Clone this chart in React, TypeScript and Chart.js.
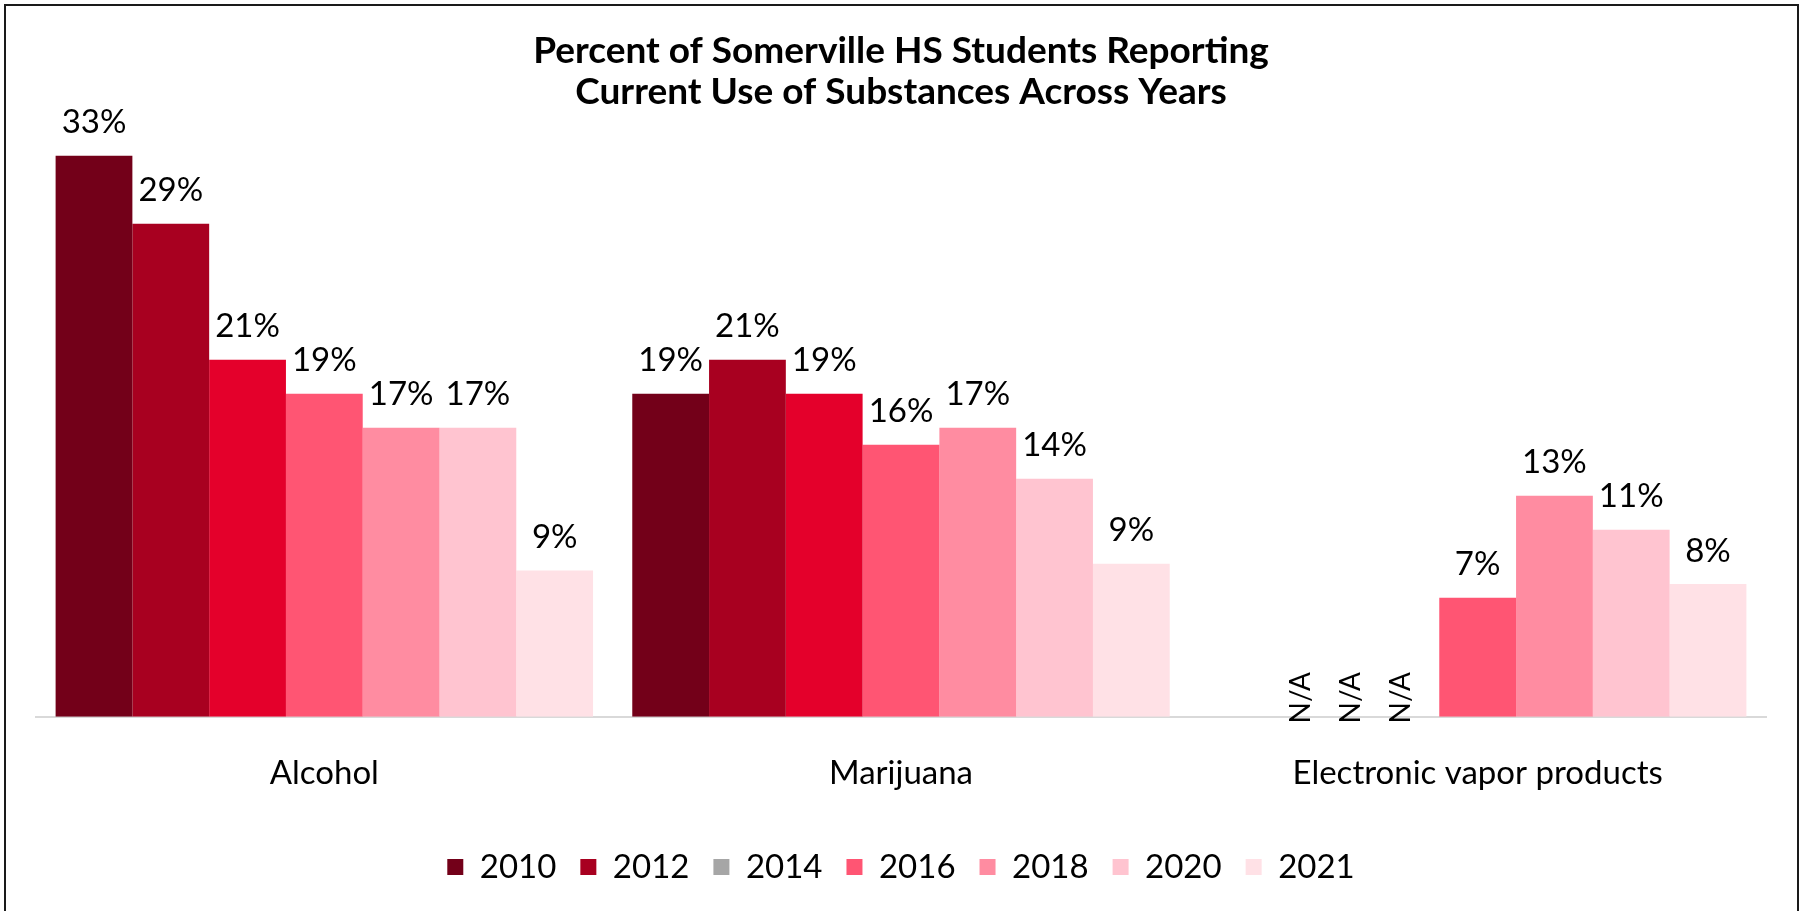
import React, { useEffect, useRef } from "react";
import { Chart, registerables } from "chart.js";

Chart.register(...registerables);

const categories = ["Alcohol", "Marijuana", "Electronic vapor products"];
const years = ["2010", "2012", "2014", "2016", "2018", "2020", "2021"];

const s2010 = [33, 19, null];
const s2012 = [29, 21, null];
const s2014 = [21, 19, null];
const s2016 = [19, 16, 7];
const s2018 = [17, 17, 13];
const s2020 = [17, 14, 11];
const s2021 = [8.6, 9, 7.8];

const seriesList = [s2010, s2012, s2014, s2016, s2018, s2020, s2021];

const barColors = ["#730019", "#a80020", "#e4002b", "#ff5573", "#ff8ca1", "#ffc4d0", "#ffe1e6"];
const legendColors = ["#730019", "#a80020", "#a6a6a6", "#ff5573", "#ff8ca1", "#ffc4d0", "#ffe1e6"];

const titleLines = [
  "Percent of Somerville HS Students Reporting",
  "Current Use of Substances Across Years",
];
const naText = "N/A";

const FONT = 'Lato, "Noto Sans", sans-serif';
const CAT_PCT = 0.932;

const labelPlugin = {
  id: "valueLabels",
  afterDatasetsDraw(chart: any) {
    const ctx = chart.ctx;
    const xScale = chart.scales.x;
    ctx.save();
    ctx.fillStyle = "#000";
    chart.data.datasets.forEach((ds: any, di: number) => {
      const meta = chart.getDatasetMeta(di);
      meta.data.forEach((el: any, idx: number) => {
        const v = ds.data[idx];
        if (v === null || v === undefined) {
          const catW = xScale.getPixelForValue(1) - xScale.getPixelForValue(0);
          const slot = (catW * CAT_PCT) / years.length;
          const center = xScale.getPixelForValue(idx);
          const x = center - slot - (2 - di) * 0.65 * slot;
          const y = xScale.top - 19;
          ctx.save();
          ctx.translate(x, y);
          ctx.rotate(-Math.PI / 2);
          ctx.font = `28px ${FONT}`;
          ctx.textAlign = "center";
          ctx.textBaseline = "middle";
          ctx.fillText(naText, 0, 0);
          ctx.restore();
        } else {
          ctx.font = `33px ${FONT}`;
          ctx.textAlign = "center";
          ctx.textBaseline = "middle";
          ctx.fillText(`${Math.round(v)}%`, el.x, el.y - 33);
        }
      });
    });
    ctx.restore();
  },
};

export default function App() {
  const canvasRef = useRef<HTMLCanvasElement | null>(null);

  useEffect(() => {
    document.body.style.margin = "0";
    const canvas = canvasRef.current;
    if (!canvas) return;
    const chart = new Chart(canvas, {
      type: "bar",
      data: {
        labels: categories,
        datasets: years.map((y, i) => ({
          label: y,
          data: seriesList[i],
          backgroundColor: barColors[i],
          borderWidth: 0,
          categoryPercentage: CAT_PCT,
          barPercentage: 1,
        })),
      },
      options: {
        responsive: false,
        animation: false,
        layout: { padding: { left: 36, right: 37, top: 0, bottom: 17.5 } },
        plugins: {
          title: {
            display: true,
            text: titleLines,
            color: "#000",
            font: { family: FONT, size: 37, weight: "bold", lineHeight: 1.1 },
            padding: { top: 31, bottom: 9.3 },
          },
          legend: {
            position: "bottom",
            labels: {
              boxWidth: 16,
              boxHeight: 16,
              padding: 24,
              color: "#000",
              font: { family: FONT, size: 33 },
              generateLabels: () =>
                years.map((y, i) => ({
                  text: y,
                  fillStyle: legendColors[i],
                  strokeStyle: legendColors[i],
                  lineWidth: 0,
                  hidden: false,
                  datasetIndex: i,
                  fontColor: "#000",
                })),
            },
          },
          tooltip: { enabled: false },
        },
        scales: {
          x: {
            grid: { display: false },
            border: { display: true, color: "#d9d9d9", width: 2 },
            ticks: {
              color: "#000",
              font: { family: FONT, size: 33 },
              padding: 28.5,
              maxRotation: 0,
            },
            afterFit: (s: any) => {
              s.height = 109.8;
            },
          },
          y: { display: false, min: 0, max: 35 },
        },
      } as any,
      plugins: [labelPlugin],
    });
    return () => chart.destroy();
  }, []);

  return (
    <div
      style={{
        position: "absolute",
        left: 0,
        top: 0,
        width: 1803,
        height: 911,
        overflow: "hidden",
        background: "#fff",
      }}
    >
      <canvas
        ref={canvasRef}
        width={1803}
        height={911}
        style={{ display: "block", width: 1803, height: 911 }}
      />
      <div
        style={{
          position: "absolute",
          left: 4,
          top: 4,
          width: 1791,
          height: 920,
          border: "2px solid #1a1a1a",
          pointerEvents: "none",
        }}
      />
    </div>
  );
}
